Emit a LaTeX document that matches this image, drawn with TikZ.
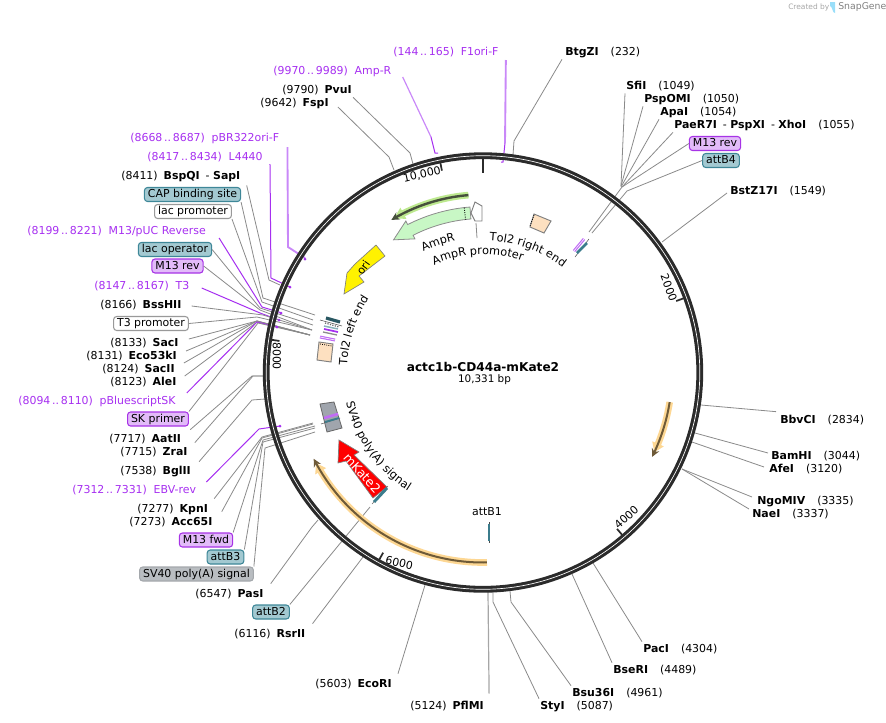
\documentclass[tikz,border=0pt]{standalone}
\usepackage{fontspec}
\setmainfont{DejaVu Sans}
\usetikzlibrary{arrows.meta,decorations.text,calc,bending}
\definecolor{pur}{HTML}{A62FF0}
\definecolor{purl}{HTML}{C988F8}
\definecolor{ringc}{HTML}{2B2B2B}
\definecolor{cong}{HTML}{8A8A8A}
\definecolor{teal1}{HTML}{A3C9D1}
\definecolor{teal2}{HTML}{3E8798}
\definecolor{teal3}{HTML}{3B7C8C}
\definecolor{pb}{HTML}{E2BBF9}
\definecolor{pe}{HTML}{A733E6}
\definecolor{gb}{HTML}{B9BDC1}
\definecolor{ge}{HTML}{A4A8AC}
\definecolor{ora}{HTML}{FDD793}
\definecolor{orc}{HTML}{6E5A38}
\definecolor{grn}{HTML}{BDE98F}
\definecolor{grc}{HTML}{46503C}
\definecolor{ampf}{HTML}{C8F7C5}
\definecolor{peach}{HTML}{FDE0C0}
\definecolor{svg}{HTML}{A0A5AD}
\newcommand{\lb}{\fontsize{8.2}{10}\selectfont}
\newcommand{\lc}{\fontsize{8.5}{10}\selectfont}
\newcommand{\gp}{\hspace{.55em}}
\newcommand{\gq}{\hspace{1.1em}}
\newcommand{\gr}{\hspace{.62em}}
\newcommand{\dd}{\hspace{.16em}..\hspace{.16em}}
\tikzset{
 lab/.style={inner xsep=0pt,inner ysep=.5pt,outer sep=1pt,text height=6.3pt,text depth=1.7pt,font=\lb,xshift=-.75pt,yshift=-.75pt},
 rs/.style={lab,text=black},
 ps/.style={lab,text=pur},
 box/.style={font=\lb,rounded corners=2.3pt,line width=.8pt,inner xsep=2.6pt,inner ysep=0pt,minimum height=10.5pt,text height=6.3pt,text depth=1.7pt},
 bteal/.style={box,draw=teal2,fill=teal1},
 bpur/.style={box,draw=pe,fill=pb},
 bwh/.style={box,draw=black!40,fill=white},
 bgr/.style={box,draw=ge,fill=gb},
 cg/.style={draw=cong,line width=.6pt},
 cp/.style={draw=pur,line width=.75pt},
 cl/.style={draw=purl,line width=1.4pt},
 dot/.style={fill=pur},
 tick/.style={draw=ringc,line width=1.3pt},
 polar/.style={shift={(483,372.5)},y=.75pt},
 curved/.style={decorate,decoration={text along path,text align=center,text={|\lc|#1}}},
}
\begin{document}
\begin{tikzpicture}[x=.75pt,y=-.75pt]
\useasboundingbox (0,0) rectangle (886,722);
% watermark
\node[font=\fontsize{5.6}{7}\selectfont,text=black!35,inner sep=0pt,anchor=west] (wm1) at (788,7.5) {Created by};
\node[font=\fontsize{7}{8}\selectfont,text=black!50,inner sep=0pt,anchor=west] (wm2) at (838,7.5) {SnapGene};
\fill[cyan!40] (830,2) -- (835,2) -- (835,13) .. controls (832,13) and (833,7) .. (830,6) -- cycle;
% labels top
\node[ps,anchor=west] (f1ori) at (393,51) {(144\dd 165)\gr F1ori-F};
\node[rs,anchor=west] (btgzi) at (565,51) {\textbf{BtgZI}\gq (232)};
\node[ps,anchor=west] (ampr) at (273,70) {(9970\dd 9989)\gr Amp-R};
\node[rs,anchor=west] (pvui) at (282,89) {(9790)\gp\textbf{PvuI}};
\node[rs,anchor=west] (fspi) at (260,102) {(9642)\gp\textbf{FspI}};
\node[rs,anchor=west] (sfii) at (626,85) {\textbf{SfiI}\gq (1049)};
\node[rs,anchor=west] (psp) at (644,98) {\textbf{PspOMI}\gq (1050)};
\node[rs,anchor=west] (apai) at (660,111) {\textbf{ApaI}\gq (1054)};
\node[rs,anchor=west] (paer) at (674,124) {\textbf{PaeR7I}\gp- \textbf{PspXI}\gp- \textbf{XhoI}\gq (1055)};
\node[bpur] (m13r) at (715,143.5) {M13 rev};
\node[bteal] (attb4) at (721,160.5) {attB4};
\node[rs,anchor=west] (bstz) at (730,190) {\textbf{BstZ17I}\gq (1549)};
% labels left
\node[ps,anchor=west] (pbr) at (130,137) {(8668\dd 8687)\gr pBR322ori-F};
\node[ps,anchor=west] (l44) at (147,156) {(8417\dd 8434)\gr L4440};
\node[rs,anchor=west] (bsp) at (121,175) {(8411)\gp\textbf{BspQI}\gp- \textbf{SapI}};
\node[bteal] (cap) at (192.5,194.5) {CAP binding site};
\node[bwh] (lacp) at (193,211.5) {lac promoter};
\node[ps,anchor=west] (puc) at (27,230) {(8199\dd 8221)\gr M13/pUC Reverse};
\node[bteal] (laco) at (175,249.5) {lac operator};
\node[bpur] (m13r2) at (177.5,266) {M13 rev};
\node[ps,anchor=west] (t3) at (94,285) {(8147\dd 8167)\gr T3};
\node[rs,anchor=west] (bss) at (100,304) {(8166)\gp\textbf{BssHII}};
\node[bwh] (t3p) at (151,323.5) {T3 promoter};
\node[rs,anchor=west] (saci) at (110,342) {(8133)\gp\textbf{SacI}};
\node[rs,anchor=west] (eco53) at (86,355) {(8131)\gp\textbf{Eco53kI}};
\node[rs,anchor=west] (sacii) at (102,368) {(8124)\gp\textbf{SacII}};
\node[rs,anchor=west] (alei) at (110,381) {(8123)\gp\textbf{AleI}};
\node[ps,anchor=west] (pbs) at (18,400) {(8094\dd 8110)\gr pBluescriptSK};
\node[bpur] (skp) at (158,419) {SK primer};
\node[rs,anchor=west] (aat) at (109,438) {(7717)\gp\textbf{AatII}};
\node[rs,anchor=west] (zra) at (120,451) {(7715)\gp\textbf{ZraI}};
\node[rs,anchor=west] (bgl) at (120,470) {(7538)\gp\textbf{BglII}};
\node[ps,anchor=west] (ebv) at (72,489) {(7312\dd 7331)\gr EBV-rev};
\node[rs,anchor=west] (kpn) at (137,508) {(7277)\gp\textbf{KpnI}};
\node[rs,anchor=west] (acc) at (129,521) {(7273)\gp\textbf{Acc65I}};
\node[bpur] (m13f) at (206,540) {M13 fwd};
\node[bteal] (attb3) at (225.5,557) {attB3};
\node[bgr] (sv40b) at (196.5,574) {SV40 poly(A) signal};
\node[rs,anchor=west] (pas) at (195,593) {(6547)\gp\textbf{PasI}};
\node[bteal] (attb2) at (271,612) {attB2};
\node[rs,anchor=west] (rsr) at (234,633) {(6116)\gp\textbf{RsrII}};
% labels right, bottom
\node[rs,anchor=west] (bbv) at (780,419) {\textbf{BbvCI}\gq (2834)};
\node[rs,anchor=west] (bam) at (771,455) {\textbf{BamHI}\gq (3044)};
\node[rs,anchor=west] (afe) at (769,468) {\textbf{AfeI}\gq (3120)};
\node[rs,anchor=west] (ngo) at (757,500) {\textbf{NgoMIV}\gq (3335)};
\node[rs,anchor=west] (nae) at (752,513) {\textbf{NaeI}\gq (3337)};
\node[rs,anchor=west] (pac) at (643,648) {\textbf{PacI}\gq (4304)};
\node[rs,anchor=west] (bse) at (613,669) {\textbf{BseRI}\gq (4489)};
\node[rs,anchor=west] (bsu) at (572,692) {\textbf{Bsu36I}\gq (4961)};
\node[rs,anchor=west] (sty) at (540,705) {\textbf{StyI}\gq (5087)};
\node[rs,anchor=west] (pfl) at (410,705) {(5124)\gp\textbf{PflMI}};
\node[rs,anchor=west] (ecor) at (315,683) {(5603)\gp\textbf{EcoRI}};
% connectors top
\draw[cl] ([shift={(6,8)}]f1ori.east) -- (505,143);
\draw[cp] (505,143) -- (503,162) -- (501,162);
\draw[cg] ([shift={(-2,0)}]btgzi.south west) -- (514,141) -- (513,155);
\draw[cl,line width=.9pt] ([shift={(10,6)}]ampr.east) -- (431,137);
\draw[cp] (431,137) -- (435,153) -- (438,153);
\draw[cg] (pvui.south east) -- (410,153) -- (413,164);
\draw[cg] ([shift={(8,4)}]fspi.east) -- (389,157) -- (394,170);
\draw[cg] (sfii.south west) -- (621,186);
\draw[cg] (psp.south west) -- (621,186);
\draw[cg] (apai.south west) -- (621,187);
\draw[cg] (paer.south west) -- (622,187);
\draw[cg] (m13r.west) -- (622,187) -- (589,232);
\draw[cg] (attb4.west) -- (627,191) -- (592,233);
\draw[cg] ([shift={(-2,2)}]bstz.west) -- (662,242);
% connectors left
\draw[cl] ([shift={(7,9)}]pbr.east) -- (288,247) -- (305,258);
\draw[cg] (bsp.south east) ++(5,2) -- (269,280) -- (280,285);
\draw[cp] ([shift={(6,7)}]l44.east) -- (271,278) -- (290,287);
\draw[cg] (cap.south east) -- (263,298) -- (315,315);
\draw[cg] (lacp.south east) -- (262,302) -- (313,320);
\draw[cp] ([shift={(12,7)}]puc.east) -- (262,307) -- (282,313);
\draw[cg] (laco.east) -- (260,308) -- (313,325);
\draw[cg] (m13r2.east) -- (260,310) -- (312,330);
\draw[cp] ([shift={(11,2)}]t3.east) -- (260,313) -- (279,320);
\draw[cg] ([shift={(9,1)}]bss.east) -- (263,315) -- (312,330);
\draw[cg] (t3p.east) -- (257,317) -- (312,330);
\draw[cg] ([shift={(9,-4)}]saci.east) -- (257,321) -- (310,335);
\draw[cg] ([shift={(8,-5)}]eco53.east) -- (257,321) -- (310,335);
\draw[cg] ([shift={(8,-6)}]sacii.east) -- (257,321) -- (310,335);
\draw[cg] ([shift={(7,-6)}]alei.east) -- (257,322) -- (310,335);
\draw[cp] ([shift={(10,-8)}]pbs.east) -- (257,322) -- (277,327);
\draw[cg] (skp.north east) -- (258,323) -- (310,335);
\draw[cg] (aat.north east) ++(8,-2) -- (252,376) -- (265,376);
\draw[cg] (zra.north east) ++(6,-2) -- (253,376) -- (265,376);
\draw[cg] (bgl.north east) ++(7,-2) -- (252,400) -- (265,399);
\draw[cp] ([shift={(9,-8)}]ebv.east) -- (259,429) -- (280,426);
\draw[cg] (kpn.north east) ++(5,-3) -- (262,437) -- (313,423);
\draw[cg] (acc.north east) ++(8,-3) -- (262,438) -- (313,424);
\draw[cg] (m13f.north east) -- (263,440) -- (315,426);
\draw[cg] (attb3.north east) -- (263,442) -- (315,428);
\draw[cg] (sv40b.north east) -- (265,448) -- (315,432);
\draw[cg] (pas.north east) ++(6,-3) -- (312,527) -- (318,520);
\draw[cg] (attb2.north east) -- (370,507);
\draw[cg] (rsr.north east) ++(6,-3) -- (363,557);
% connectors right, bottom
\draw[cg] (bbv.north west) ++(-3,-1) -- (701,405);
\draw[cg] (bam.west) ++(-2,-3) -- (695,433);
\draw[cg] (afe.west) ++(-4,-2) -- (692,442);
\draw[cg] (ngo.west) ++(-4,-4) -- (682,469);
\draw[cg] (nae.west) ++(-2,-5) -- (682,469);
\draw[cg] (pac.north west) -- (593,563);
\draw[cg] (bse.north west) -- (572,574);
\draw[cg] (bsu.north west) -- (511,602) -- (510,591);
\draw[cg] (sty.north west) -- (493,602) -- (493,592);
\draw[cg,line width=.9pt,draw=black!35] ([shift={(4,-5)}]pfl.north east) -- (488,592);
\draw[cg] (ecor.north east) ++(5,-3) -- (425,585);
% ring dots
\foreach \p in {(305,259),(290,287),(281,313),(279,320),(277,327),(280,426)}
  \fill[dot] \p circle (1.5);
% ring
\draw[ringc,line width=5.1pt] (483,372.5) circle [radius=162.6pt];
\draw[white,line width=.5pt] (483,372.5) circle [radius=162.6pt];
% ticks
\begin{scope}[polar]
\draw[tick,line width=2pt] (90:200) -- (90:213.5);
\draw[tick] (20.3:206) -- (20.3:214);
\draw[tick] (-49.4:206) -- (-49.4:214);
\draw[tick] (-119:206) -- (-119:214);
\draw[tick] (171.2:206) -- (171.2:214);
\draw[tick] (101.5:206) -- (101.5:214);
% green thin
\draw[grn,line width=5pt,-{Triangle[length=8pt,width=9pt,flex]}] (94.7:178) arc[start angle=94.7,end angle=120,radius=178*.75pt];
\draw[grc,line width=1.8pt,-{Stealth[length=6pt,width=6pt,flex]}] (94.7:178) arc[start angle=94.7,end angle=121,radius=178*.75pt];
% AmpR
\draw[black!45,fill=ampf,line width=.6pt] (94.5:166) arc[start angle=94.5,end angle=117,radius=166*.75pt] -- (117:170) -- (124:160) -- (117:150) -- (117:154) arc[start angle=117,end angle=94.5,radius=154*.75pt] -- cycle;
\draw[black,densely dotted,line width=.7pt] (96.5:166) -- (96.5:154);
% orange arcs
\draw[ora,line width=5pt,-{Triangle[length=7pt,width=9pt,flex]}] (-9:189) arc[start angle=-9,end angle=-25,radius=189*.75pt];
\draw[orc,line width=1.5pt,-{Stealth[length=6pt,width=6pt,flex]}] (-9:189) arc[start angle=-9,end angle=-26.5,radius=189*.75pt];
\draw[ora,line width=5pt,-{Triangle[length=7pt,width=9pt,flex]}] (-88.8:190) arc[start angle=-88.8,end angle=-151.5,radius=190*.75pt];
\draw[orc,line width=1.5pt,-{Stealth[length=6pt,width=6pt,flex]}] (-88.8:190) arc[start angle=-88.8,end angle=-153,radius=190*.75pt];
% curved labels
\path[curved=Tol2 right end] (95:132) arc[start angle=95,end angle=45,radius=132*.75pt];
\path[curved=AmpR promoter] (120:118) arc[start angle=120,end angle=65,radius=118*.75pt];
\path[curved=AmpR] (125:135) arc[start angle=125,end angle=93,radius=135*.75pt];
\path[curved=Tol2 left end] (190:136) arc[start angle=190,end angle=134,radius=136*.75pt];
\path[curved=SV40 poly(A) signal] (-178:140) arc[start angle=-178,end angle=-112,radius=140*.75pt];
\end{scope}
% tick labels
\node[rs,rotate=13] (t10k) at (423,174) {10,000};
\node[rs,rotate=-70] (t2k) at (669,287) {2000};
\node[rs,rotate=42] (t4k) at (628,517) {4000};
\node[rs,rotate=-13] (t6k) at (400,563) {6000};
\node[rs,rotate=-90] (t8k) at (277,355) {8000};
% ori
\draw[black!50,fill=yellow,line width=.5pt] (376,245) -- (355,264) -- (347,273) -- (344,294) -- (364,282) -- (359,276) -- (385,256) -- cycle;
\node[rs,rotate=55] (ori) at (365,267) {ori};
% mKate2
\draw[black!50,fill=red,line width=.5pt] (373,498) -- (346,461) -- (338,463) -- (339,440) -- (359,452) -- (354,455) -- (387,487) -- cycle;
\node[rs,rotate=-48,text=white,font=\fontsize{9.4}{11}\selectfont] (mk) at (362,473) {mKate2};
\draw[black!60,line width=.4pt] (372,504) -- (388,486);
\draw[teal3,line width=2.2pt] (374,502) -- (387,488);
% attB1
\node[rs] (attb1) at (488,511) {attB1};
\draw[black!70,line width=.4pt] (489,522) -- (489,543);
\draw[teal3,line width=2.2pt] (489,524) -- (489,541);
% promoter
\draw[black!50,fill=white,line width=.7pt] (475,202) -- (482,206) -- (482,221) -- (475,221) -- (471,213) -- cycle;
\draw[cg] (476,223) -- (477,238);
% Tol2 right
\draw[black!50,fill=peach,line width=.7pt] (534,214) -- (551,221) -- (544,233) -- (530,227) -- cycle;
\draw[black,densely dotted,line width=.6pt] (534,215) -- (530,226);
\draw[pur!70,line width=2.2pt] (574,251) -- (584,239);
\draw[white,line width=.4pt] (574,251) -- (584,239);
\draw[black!70,line width=.4pt] (575,257) -- (589,239);
\draw[teal3,line width=2pt] (577,253) -- (587,243);
% Tol2 left
\draw[black!50,fill=peach,line width=.7pt] (319,342) -- (333,344) -- (331,362) -- (317,360) -- cycle;
\draw[black,densely dotted,line width=.6pt] (320,344) -- (332,346);
\draw[teal3!70!black,line width=2.4pt] (326,318) -- (340,322);
\draw[black!70,line width=.4pt] (320,320) -- (342,326);
\draw[black!60,densely dotted,line width=.9pt] (325,323) -- (339,327);
\draw[teal3!60,line width=1.1pt] (324,326) -- (338,329);
\draw[pur,line width=1.3pt] (324,329) -- (338,332);
\draw[black!45,line width=1pt] (323,332) -- (337,335);
\draw[pur!70,line width=2.2pt] (320,337) -- (335,340);
\draw[white,line width=.4pt] (320,337) -- (335,340);
% SV40 box
\draw[black!60,fill=svg,line width=.6pt] (320,404) -- (334,402) -- (342,428) -- (327,432) -- cycle;
\draw[pur!70,line width=2pt] (324,418) -- (338,414);
\draw[black!70,line width=.4pt] (321,424) -- (340,418);
\draw[teal3,line width=1.4pt] (325,422) -- (339,418);
% centre
\node[font=\fontsize{9.1}{12}\selectfont\bfseries,inner sep=0pt] (title) at (483,366.5) {actc1b-CD44a-mKate2};
\node[font=\fontsize{7.8}{10}\selectfont,inner sep=0pt] (bp) at (484.5,380) {10,331 bp};
\end{tikzpicture}
\end{document}
